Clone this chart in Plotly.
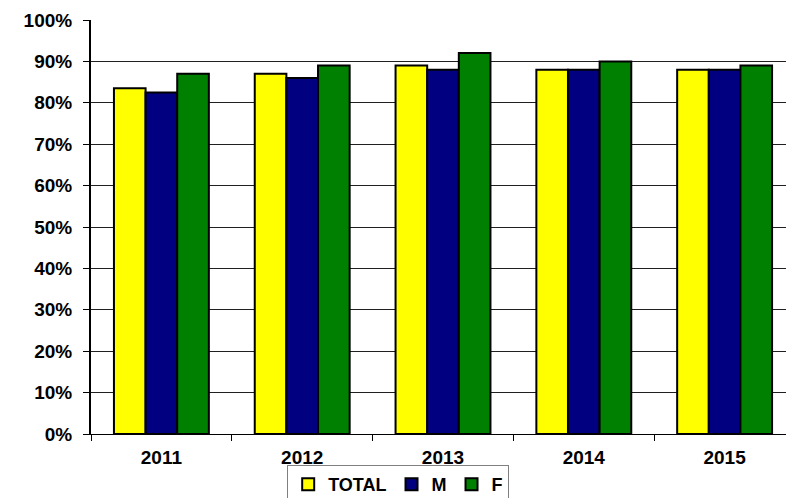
import plotly.graph_objects as go

years = ["2011", "2012", "2013", "2014", "2015"]
total = [83.5, 87, 89, 88, 88]
male = [82.5, 86, 88, 88, 88]
female = [87, 89, 92, 90, 89]
y_ticks = [0, 10, 20, 30, 40, 50, 60, 70, 80, 90, 100]
y_labels = [f"{v}%" for v in y_ticks]

series = [("TOTAL", total, "#FFFF00"), ("M", male, "#000080"), ("F", female, "#008000")]

fig = go.Figure()
for name, vals, col in series:
    fig.add_trace(go.Bar(
        x=years, y=vals, name=name,
        marker=dict(color=col, line=dict(color="black", width=2)),
    ))

fam = "Liberation Sans, Arial, sans-serif"
bold = dict(family=fam, size=19, color="black", weight="bold")
fig.update_layout(
    width=786, height=498,
    margin=dict(l=91, r=0, t=20, b=64, autoexpand=False),
    paper_bgcolor="white", plot_bgcolor="white",
    barmode="group", bargap=0.326, bargroupgap=0,
    font=bold,
    showlegend=True,
    legend=dict(
        orientation="h", x=0.442, xanchor="center", y=-0.075, yanchor="top",
        bordercolor="#808080", borderwidth=1,
        font=dict(family=fam, size=18, color="black", weight="bold"),
        itemwidth=30, traceorder="normal",
    ),
    xaxis=dict(
        type="category", range=[-0.5, 4.436], automargin=False,
        tickson="boundaries", ticks="outside", ticklen=6, tickcolor="black",
        ticklabelstandoff=6,
        showline=True, linecolor="black", linewidth=1,
        tickfont=bold, showgrid=False,
    ),
    yaxis=dict(
        range=[0, 100], tickvals=y_ticks, ticktext=y_labels, automargin=False,
        ticks="outside", ticklen=6, tickcolor="black",
        ticklabelstandoff=7,
        showline=True, linecolor="black", linewidth=2,
        showgrid=True, gridcolor="#202020", gridwidth=1,
        tickfont=bold, zeroline=False,
    ),
)
fig.write_html(
    "out.html",
    config={"displayModeBar": False},
    post_script="document.body.style.margin='0';document.body.style.overflow='hidden';",
)
